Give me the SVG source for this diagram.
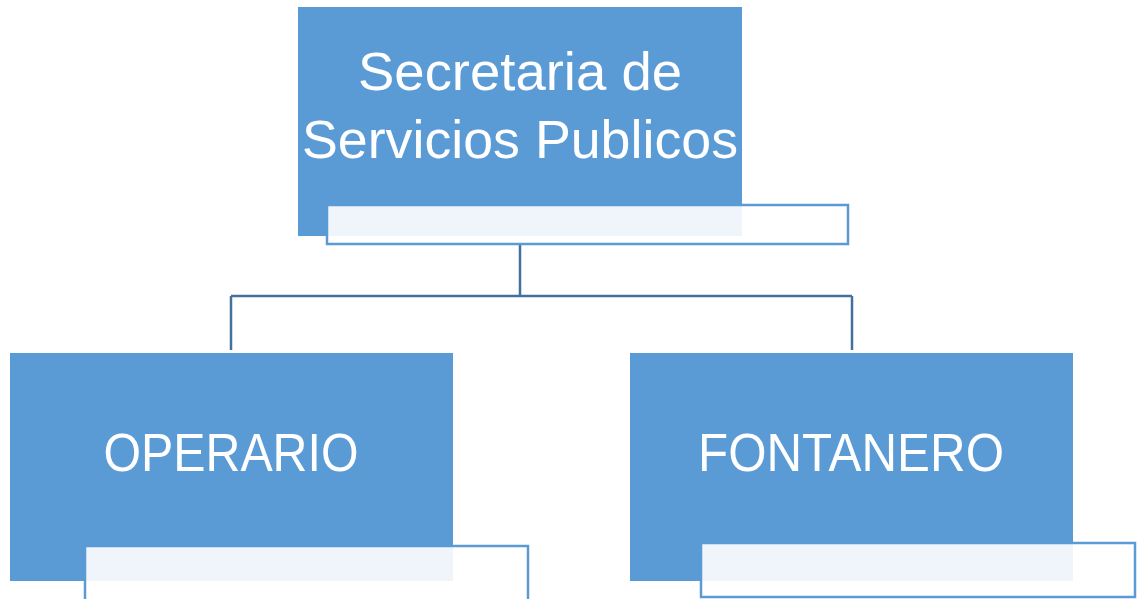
<svg xmlns="http://www.w3.org/2000/svg" width="1137" height="599" viewBox="0 0 1137 599">
<style>
.main{fill:#5B9BD5;}
.sub{fill:#ffffff;fill-opacity:0.9;stroke:#5B9BD5;stroke-width:2.5;}
.lbl{fill:#ffffff;font-family:"Liberation Sans","Open Sans",sans-serif;font-size:54px;text-anchor:middle;}
.conn{fill:none;stroke:#41719C;stroke-width:2.5;}
</style>
<rect width="1137" height="599" fill="#ffffff"/>
<g id="connectors">
<path class="conn" d="M520,244 V296 M231,296 H852 M231,296 V350 M852,296 V350"/>
</g>
<g id="node-secretaria">
<rect class="main" x="298" y="7" width="444" height="229"/>
<text class="lbl" x="520" y="90" textLength="324" lengthAdjust="spacingAndGlyphs">Secretaria de</text>
<text class="lbl" x="520" y="158" textLength="436" lengthAdjust="spacingAndGlyphs">Servicios Publicos</text>
<rect class="sub" x="327" y="205" width="521" height="39"/>
</g>
<g id="node-operario">
<rect class="main" x="10" y="353" width="443" height="228"/>
<text class="lbl" x="231" y="471" textLength="255" lengthAdjust="spacingAndGlyphs">OPERARIO</text>
<rect class="sub" x="85" y="546" width="443" height="60"/>
</g>
<g id="node-fontanero">
<rect class="main" x="630" y="353" width="443" height="228"/>
<text class="lbl" x="851" y="471" textLength="306" lengthAdjust="spacingAndGlyphs">FONTANERO</text>
<rect class="sub" x="701" y="543" width="434" height="54"/>
</g>
</svg>
